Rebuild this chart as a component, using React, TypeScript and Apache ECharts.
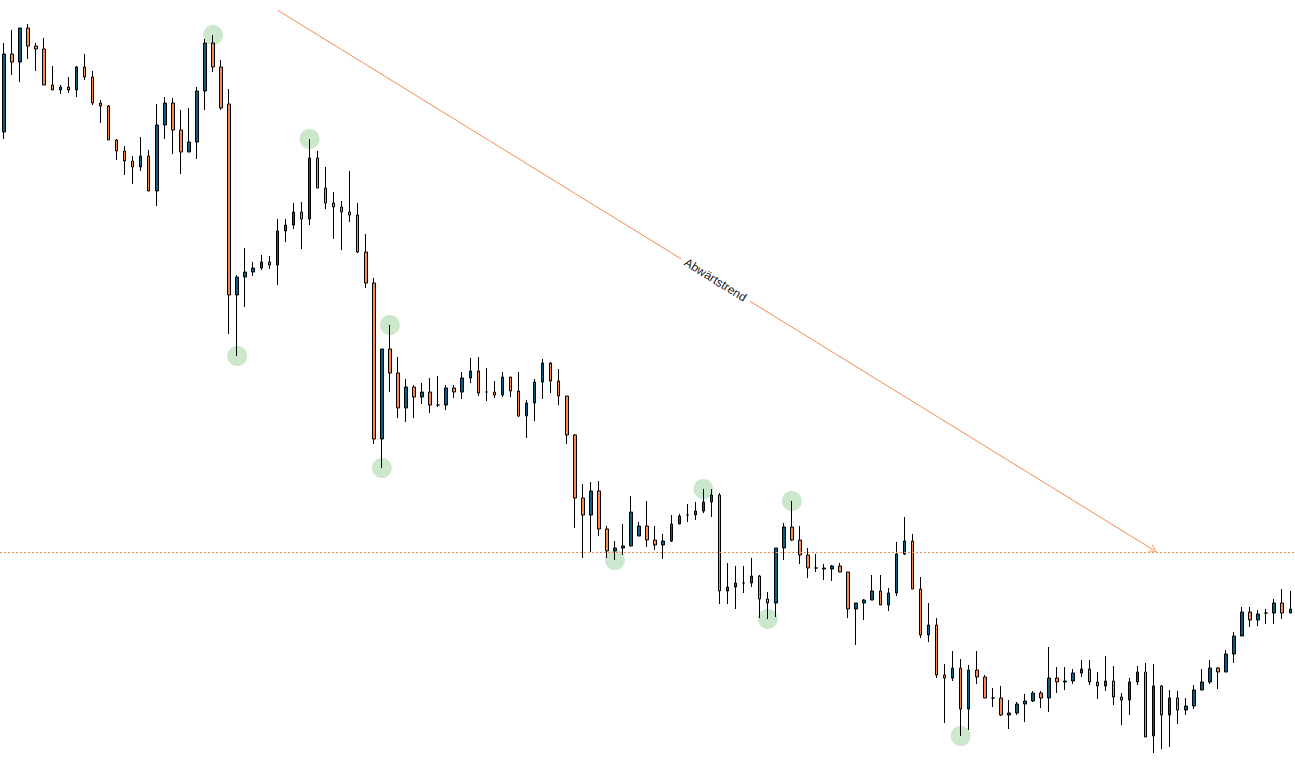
import React, { useEffect, useRef } from "react";
import * as echarts from "echarts";

// Candle levels (chart height 768; price = 768 - level)
const openLevel = [
  132, 54, 62, 28, 46, 49, 85, 90, 87, 90, 67, 77, 103, 106, 140, 151, 161, 167, 156, 191,
  125, 103, 130, 152, 142, 91, 43, 67, 104, 295, 277, 272, 268, 262, 265, 231, 225, 212, 219, 158,
  188, 203, 207, 212, 215, 252, 283, 439, 349, 373, 408, 387, 397, 392, 405, 405, 388, 392, 378, 371,
  392, 392, 395, 377, 391, 416, 403, 382, 363, 381, 396, 435, 498, 515, 491, 529, 551, 548, 546, 536,
  526, 540, 545, 541, 524, 515, 515, 511, 502, 495, 591, 587, 583, 583, 576, 599, 603, 548, 527, 540,
  555, 568, 568, 569, 566, 572, 609, 603, 600, 591, 605, 593, 554, 541, 589, 635, 625, 675, 678, 668,
  709, 670, 677, 698, 698, 715, 713, 704, 701, 693, 698, 678, 682, 681, 673, 669, 682, 686, 681, 697,
  700, 682, 672, 736, 686, 715, 698, 710, 706, 690, 682, 668, 672, 654, 636, 612, 620, 613, 613, 603,
  613,
];
const closeLevel = [
  54, 62, 28, 46, 49, 85, 90, 87, 90, 67, 77, 103, 106, 140, 151, 161, 167, 156, 191, 125,
  103, 130, 152, 142, 91, 43, 67, 108, 295, 277, 272, 268, 262, 265, 231, 225, 212, 219, 158, 188,
  203, 207, 212, 215, 252, 283, 439, 349, 373, 408, 387, 397, 392, 405, 405, 388, 392, 378, 371, 393,
  392, 395, 377, 391, 416, 403, 382, 363, 381, 396, 435, 498, 515, 491, 529, 551, 548, 546, 512, 526,
  540, 545, 541, 524, 516, 515, 511, 502, 495, 591, 587, 583, 583, 576, 599, 603, 548, 527, 540, 555,
  568, 568, 569, 566, 572, 609, 603, 600, 591, 605, 593, 554, 541, 589, 635, 625, 675, 678, 668, 709,
  670, 677, 698, 698, 715, 713, 704, 701, 693, 698, 678, 682, 681, 673, 669, 682, 686, 681, 697, 700,
  682, 672, 737, 686, 715, 698, 710, 706, 690, 682, 668, 672, 654, 636, 612, 620, 614, 613, 603, 613,
  609,
];
const highLevel = [
  43, 30, 28, 24, 43, 38, 66, 85, 77, 66, 54, 71, 100, 105, 139, 146, 156, 137, 150, 104,
  97, 98, 110, 108, 87, 39, 35, 60, 89, 275, 248, 262, 255, 256, 219, 219, 203, 202, 139, 151,
  167, 192, 201, 171, 203, 234, 278, 349, 325, 357, 379, 385, 383, 378, 376, 385, 385, 372, 358, 357,
  368, 381, 372, 377, 372, 400, 379, 359, 362, 369, 396, 434, 484, 482, 481, 526, 541, 524, 496, 522,
  501, 526, 534, 515, 514, 504, 502, 489, 489, 493, 563, 566, 566, 558, 575, 592, 548, 523, 501, 526,
  548, 554, 564, 565, 563, 572, 603, 599, 575, 575, 588, 542, 517, 534, 577, 603, 618, 664, 651, 659,
  665, 651, 675, 688, 686, 700, 702, 694, 691, 691, 647, 667, 667, 669, 660, 660, 672, 656, 666, 693,
  678, 666, 663, 664, 685, 690, 691, 698, 685, 669, 660, 667, 650, 632, 607, 607, 610, 609, 599, 589,
  591,
];
const lowLevel = [
  139, 75, 82, 59, 71, 85, 90, 94, 93, 97, 80, 105, 123, 140, 160, 175, 184, 171, 191, 206,
  139, 154, 174, 152, 159, 110, 72, 110, 334, 356, 307, 276, 270, 269, 285, 242, 229, 249, 225, 188,
  209, 239, 250, 222, 253, 288, 444, 468, 392, 418, 422, 418, 404, 413, 407, 410, 398, 399, 383, 396,
  401, 398, 397, 397, 417, 438, 421, 399, 393, 405, 444, 528, 558, 552, 536, 558, 560, 555, 546, 536,
  547, 550, 559, 542, 524, 522, 520, 513, 517, 604, 604, 609, 593, 587, 618, 619, 617, 560, 541, 564,
  578, 572, 580, 581, 572, 618, 645, 620, 600, 605, 611, 596, 555, 589, 638, 642, 678, 723, 681, 736,
  730, 684, 698, 707, 716, 729, 715, 722, 702, 708, 712, 693, 690, 684, 677, 685, 699, 691, 705, 725,
  715, 685, 737, 753, 749, 747, 724, 715, 709, 690, 684, 689, 672, 663, 636, 627, 626, 624, 624, 619,
  613,
];

// Swing points marked with green circles: [candle index, "H" | "L"]
const pivots: [number, string][] = [
  [26, "H"], [29, "L"], [38, "H"], [47, "L"], [48, "H"],
  [76, "L"], [87, "H"], [95, "L"], [98, "H"], [119, "L"],
];

// Trend annotation: [candle index, level]
const trendStart: [number, number] = [34, 10];
const trendEnd: [number, number] = [143, 550];
const supportLevel = 552;
const trendLabel = "Abwärtstrend";

const CHART_H = 768;
const toPrice = (lvl: number) => CHART_H - lvl;

const BLUE = "#0b5b82";
const ORANGE = "#f78a4f";
const GREEN = "#cce8cc";

export default function App() {
  const ref = useRef<HTMLDivElement>(null);

  useEffect(() => {
    if (!ref.current) return;
    const chart = echarts.init(ref.current, null, { renderer: "svg" });
    const categories = openLevel.map((_, i) => String(i + 1));
    const ohlc = openLevel.map((o, i) => [
      toPrice(o),
      toPrice(closeLevel[i]),
      toPrice(lowLevel[i]),
      toPrice(highLevel[i]),
    ]);
    const pivotData = pivots.map(([i, t]) => [
      i,
      toPrice(t === "H" ? highLevel[i] : lowLevel[i]),
    ]);

    chart.setOption({
      animation: false,
      backgroundColor: "#ffffff",
      grid: { left: -1.7, right: 0.7, top: 0, bottom: 0, containLabel: false },
      xAxis: {
        type: "category",
        data: categories,
        boundaryGap: true,
        show: false,
      },
      yAxis: { type: "value", min: 0, max: CHART_H, show: false },
      series: [
        {
          type: "scatter",
          data: pivotData,
          symbol: "circle",
          symbolSize: 20,
          itemStyle: { color: GREEN, opacity: 1 },
          z: 1,
          silent: true,
        },
        {
          type: "candlestick",
          data: ohlc,
          barWidth: 3,
          z: 3,
          itemStyle: {
            color: BLUE,
            color0: ORANGE,
            borderColor: "#000",
            borderColor0: "#000",
            borderColorDoji: "#000",
            borderWidth: 1,
          },
          markLine: {
            silent: true,
            animation: false,
            symbol: ["none", "none"],
            data: [
              {
                yAxis: toPrice(supportLevel),
                lineStyle: { color: ORANGE, type: [2, 2], width: 1 },
                label: { show: false },
              },
              [
                {
                  coord: [trendStart[0], toPrice(trendStart[1])],
                  symbol: "none",
                  lineStyle: { color: ORANGE, type: "solid", width: 1 },
                  label: {
                    show: true,
                    position: "middle",
                    distance: 0,
                    verticalAlign: "middle",
                    formatter: trendLabel,
                    color: "#222",
                    fontSize: 12,
                    fontFamily: "Liberation Sans, Arial, sans-serif",
                    backgroundColor: "#ffffff",
                    padding: [2, 5],
                  },
                },
                {
                  coord: [trendEnd[0], toPrice(trendEnd[1])],
                  symbol: "path://M0,10 L5,0 L10,10 L8.8,10 L5,2.4 L1.2,10 Z",
                  symbolSize: 8,
                },
              ],
            ],
          },
        },
      ],
    });
    return () => chart.dispose();
  }, []);

  return (
    <div
      ref={ref}
      style={{ position: "fixed", left: 0, top: 0, width: 1295, height: 768 }}
    />
  );
}
